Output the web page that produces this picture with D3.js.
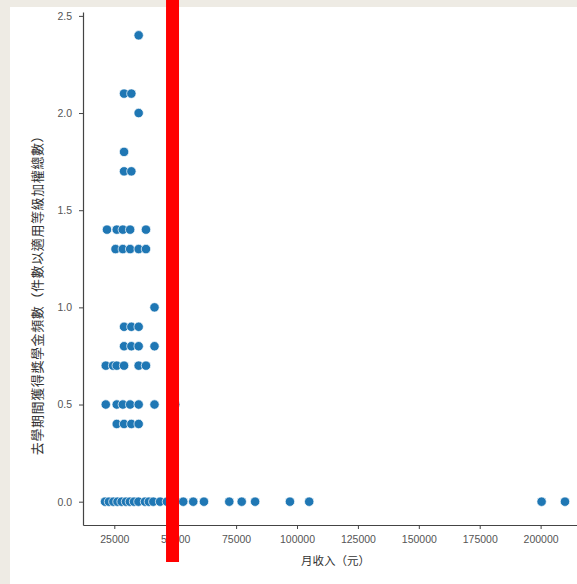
<!DOCTYPE html>
<html><head><meta charset="utf-8">
<script src="https://cdn.jsdelivr.net/npm/d3@7/dist/d3.min.js"></script>
<style>body{margin:0;background:#eeebe4;}svg{display:block;}</style>
</head><body>
<svg id="chart" width="577" height="584"></svg>
<script>
// scholarship frequency rows (y) and monthly incomes (x)
const freq2_4 = [35000];
const freq2_1 = [29000, 32000];
const freq2_0 = [35000];
const freq1_8 = [29000];
const freq1_7 = [29000, 32000];
const freq1_4 = [22000, 26000, 28500, 31500, 38000];
const freq1_3 = [25500, 28500, 31500, 35000, 38000];
const freq1_0 = [41500];
const freq0_9 = [29000, 32000, 35000];
const freq0_8 = [29000, 32000, 35000, 41500];
const freq0_7 = [21500, 24500, 26000, 29000, 35000, 38000];
const freq0_5 = [21500, 26000, 28500, 31500, 35000, 41500, 50000];
const freq0_4 = [26000, 29000, 32000, 35000];
const freq0_0 = [21200, 22800, 24600, 26300, 28000, 29800, 31400, 33100, 34900, 37600, 39200, 41000, 43800, 46600, 49900, 53300, 57400, 61800, 72200, 77300, 82800, 97100, 105000, 200400, 210000];
const rowValues = [2.4, 2.1, 2.0, 1.8, 1.7, 1.4, 1.3, 1.0, 0.9, 0.8, 0.7, 0.5, 0.4, 0.0];
const rowIncomes = [freq2_4, freq2_1, freq2_0, freq1_8, freq1_7, freq1_4, freq1_3, freq1_0, freq0_9, freq0_8, freq0_7, freq0_5, freq0_4, freq0_0];
const xTicks = [25000, 50000, 75000, 100000, 125000, 150000, 175000, 200000];
const yTicks = [0.0, 0.5, 1.0, 1.5, 2.0, 2.5];
const xLabel = "月收入（元）";
const yLabel = "去學期間獲得獎學金頻數（件數以適用等級加權總數）";
const markerIncome = 48900;

const points = [];
rowValues.forEach((v, i) => rowIncomes[i].forEach(x => points.push({x: x, y: v})));

const svg = d3.select("#chart");
svg.append("rect").attr("x", 10).attr("y", 7).attr("width", 567).attr("height", 577).attr("fill", "#ffffff");

const x = d3.scaleLinear().domain([12150, 219450]).range([83, 588]);
const y = d3.scaleLinear().domain([-0.12, 2.52]).range([525, 12]);

const font = "'Liberation Sans', Arial, sans-serif";
const xAxis = svg.append("g").attr("transform", "translate(0,525)")
  .call(d3.axisBottom(x).tickValues(xTicks).tickFormat(d3.format("d")).tickSize(4).tickSizeOuter(0).tickPadding(7));
const yAxis = svg.append("g").attr("transform", "translate(83,0)")
  .call(d3.axisLeft(y).tickValues(yTicks).tickFormat(d3.format(".1f")).tickSize(4).tickSizeOuter(0).tickPadding(7));
[xAxis, yAxis].forEach(g => {
  g.select(".domain").attr("stroke", "#444").attr("stroke-width", 1.2);
  g.selectAll(".tick line").attr("stroke", "#444").attr("stroke-width", 1);
  g.selectAll(".tick text").attr("fill", "#555").attr("font-family", font).attr("font-size", 10.5);
});

svg.append("g").selectAll("circle").data(points).join("circle")
  .attr("cx", d => x(d.x)).attr("cy", d => y(d.y)).attr("r", 4.7)
  .attr("fill", "#1f77b4").attr("stroke", "#ffffff").attr("stroke-width", 0.7);

svg.append("text").attr("x", (83 + 588) / 2).attr("y", 565).attr("text-anchor", "middle")
  .attr("font-family", "'Noto Sans CJK SC', sans-serif").attr("font-size", 11.5).attr("fill", "#333")
  .text(xLabel);
svg.append("text").attr("transform", "translate(42,292) rotate(-90)").attr("text-anchor", "middle")
  .attr("font-family", "'Noto Sans CJK TC', sans-serif").attr("font-size", 13).attr("letter-spacing", 0.6).attr("fill", "#333")
  .text(yLabel);

// red vertical marker overlay
svg.append("rect").attr("x", x(markerIncome) - 6.5).attr("y", 0).attr("width", 13).attr("height", 562).attr("fill", "#ff0000");
</script>
</body></html>
